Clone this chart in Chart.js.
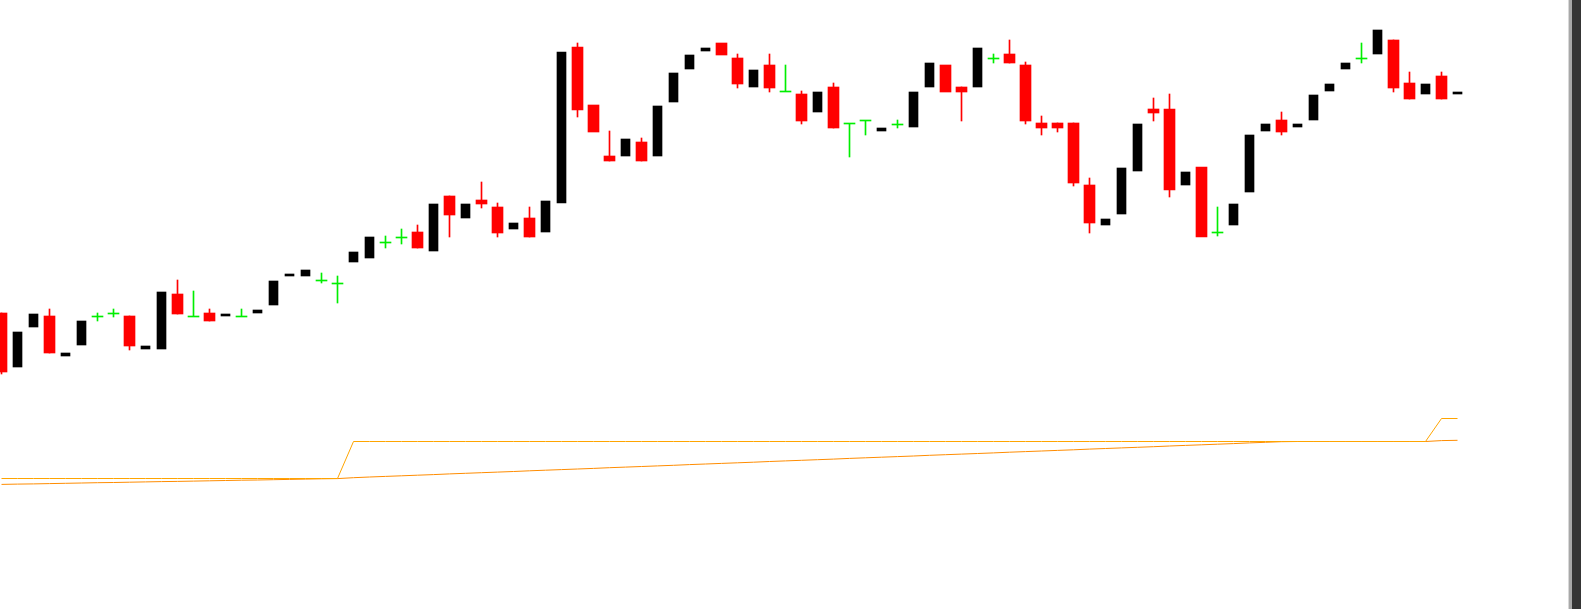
<!DOCTYPE html>
<html>
<head>
<meta charset="utf-8">
<script src="https://cdn.jsdelivr.net/npm/chart.js@4/dist/chart.umd.min.js"></script>
<style>
  html, body { margin: 0; padding: 0; background: #ffffff; overflow: hidden; }
  #wrap { position: absolute; left: 0; top: 0; width: 1568px; height: 609px; background: #ffffff; }
  #sb { position: absolute; left: 1568px; top: 0; width: 13px; height: 609px;
        background: linear-gradient(to right, #d8d8d8 0px, #d8d8d8 1px, #a8a8a8 1px, #a8a8a8 4px, #353535 4px, #353535 13px); }
</style>
</head>
<body>
<div id="wrap"><canvas id="c" width="1568" height="609"></canvas></div>
<div id="sb"></div>
<script>
// Candle OHLC values (one per bar, left to right)
const openP  = [168.7,163.3,167.3,168.4,164.4,165.5,168.35,168.65,168.4,165.1,165.1,170.6,168.35,168.7,168.4,168.35,168.7,169.5,172.4,172.4,171.95,171.65,173.8,174.2,175.75,176.25,176.8,174.9,180.4,178.2,180.0,179.3,177.1,178.2,176.8,179.7,195.3,189.5,184.4,184.4,185.8,184.4,189.8,193.1,194.9,195.7,194.2,191.3,193.5,190.85,190.6,188.8,191.3,187.65,187.95,186.9,187.55,187.3,191.3,193.5,191.3,191.3,194.15,194.6,193.5,187.7,187.7,187.7,181.5,177.5,178.6,182.9,189.1,189.1,181.5,183.3,176.75,177.5,180.8,186.9,188.0,187.3,188.0,190.9,193.1,194.15,194.6,196.0,191.7,190.6,192.4,190.6];
const highP  = [168.7,166.8,168.6,169.1,164.7,167.9,168.7,169.1,168.4,165.4,170.8,172.0,170.9,169.1,168.6,169.1,169.0,171.9,172.6,173.0,172.7,172.4,174.8,176.3,176.4,177.1,177.5,179.6,180.4,179.6,181.8,179.7,177.7,179.3,179.9,194.8,195.7,189.5,186.9,186.1,186.2,189.4,192.7,194.5,195.2,195.7,194.6,193.0,194.6,193.5,190.9,190.8,191.7,187.65,187.95,187.2,188.0,190.8,193.7,193.5,191.3,195.2,194.6,196.0,193.8,188.4,187.7,187.7,182.2,178.1,183.2,187.6,190.2,190.6,182.8,183.3,179.3,179.6,186.5,187.6,188.8,187.6,190.5,191.6,193.7,195.7,197.0,196.0,192.8,191.6,192.8,190.8];
const lowP   = [162.6,163.3,167.3,164.7,164.4,165.5,167.9,168.3,165.0,165.1,165.1,168.6,168.35,167.9,168.4,168.35,168.7,169.5,172.4,172.4,171.7,169.7,173.8,174.2,175.2,175.6,175.2,174.9,176.3,178.2,179.2,176.3,177.1,176.3,176.8,179.7,188.3,186.8,183.9,184.4,183.9,184.4,189.8,193.1,194.9,194.5,191.2,191.3,190.8,190.85,187.6,188.8,187.2,184.3,186.5,186.9,187.2,187.3,191.3,190.8,187.9,191.3,193.7,193.7,187.6,186.5,186.8,181.4,176.7,177.5,178.6,182.9,187.9,180.3,181.5,176.3,176.4,177.5,180.8,186.9,186.5,187.3,188.0,190.9,193.1,193.7,194.6,190.8,190.1,190.6,190.1,190.6];
const closeP = [162.8,166.8,168.6,164.7,164.7,167.9,168.35,168.65,165.4,165.4,170.8,168.6,168.35,167.9,168.6,168.35,169.0,171.9,172.6,173.0,171.95,171.65,174.8,176.3,175.75,176.25,175.2,179.6,178.5,179.6,179.6,176.7,177.7,176.3,179.9,194.8,189.0,186.8,183.9,186.1,183.9,189.4,192.7,194.5,195.2,194.5,191.6,193.0,191.2,190.85,187.9,190.8,187.2,187.65,187.95,187.2,187.55,190.8,193.7,190.8,190.8,195.2,194.15,193.7,187.9,187.2,187.2,181.7,177.7,178.1,183.2,187.6,188.7,181.0,182.8,176.3,176.75,179.6,186.5,187.6,186.8,187.6,190.5,191.6,193.7,194.15,197.0,191.2,190.1,191.6,190.1,190.8];

// Indicator lines (orange)
const levelLine = [152.15,152.15,152.15,152.15,152.15,152.15,152.15,152.15,152.15,152.15,152.15,152.15,152.15,152.15,152.15,152.15,152.15,152.15,152.15,152.15,152.15,152.15,155.85,155.85,155.85,155.85,155.85,155.85,155.85,155.85,155.85,155.85,155.85,155.85,155.85,155.85,155.85,155.85,155.85,155.85,155.85,155.85,155.85,155.85,155.85,155.85,155.85,155.85,155.85,155.85,155.85,155.85,155.85,155.85,155.85,155.85,155.85,155.85,155.85,155.85,155.85,155.85,155.85,155.85,155.85,155.85,155.85,155.85,155.85,155.85,155.85,155.85,155.85,155.85,155.85,155.85,155.85,155.85,155.85,155.85,155.85,155.85,155.85,155.85,155.85,155.85,155.85,155.85,155.85,155.85,158.15,158.15];
const avgLine = [151.56,151.59,151.61,151.64,151.67,151.70,151.73,151.75,151.78,151.81,151.84,151.86,151.89,151.92,151.95,151.98,152.00,152.03,152.06,152.09,152.12,152.14,152.23,152.30,152.36,152.42,152.48,152.54,152.61,152.67,152.73,152.79,152.85,152.92,152.98,153.04,153.10,153.16,153.23,153.29,153.35,153.41,153.47,153.54,153.60,153.66,153.72,153.78,153.85,153.91,153.97,154.03,154.09,154.16,154.22,154.28,154.34,154.40,154.47,154.53,154.59,154.65,154.71,154.78,154.84,154.90,154.96,155.02,155.09,155.15,155.21,155.27,155.33,155.40,155.46,155.52,155.58,155.64,155.71,155.77,155.83,155.85,155.85,155.85,155.85,155.85,155.85,155.85,155.85,155.85,155.94,155.97];

const RED = '#ff0000', BLACK = '#000000', GREEN = '#00ee00';

const wicks = [], blackBodies = [], redBodies = [], greenBodies = [], wickColors = [];
for (let i = 0; i < openP.length; i++) {
  const o = openP[i], h = highP[i], l = lowP[i], c = closeP[i];
  if (c > o) {
    blackBodies.push({x: i, y: [o, c]});
  } else if (c < o) {
    redBodies.push({x: i, y: [c, o]});
    if (h > o || l < c) { wicks.push({x: i, y: [l, h]}); wickColors.push(RED); }
  } else {
    greenBodies.push({x: i, y: [o - 0.05, o + 0.05]});
    wicks.push({x: i, y: [l, h]}); wickColors.push(GREEN);
  }
}

new Chart(document.getElementById('c'), {
  type: 'bar',
  data: {
    datasets: [
      { type: 'line', data: levelLine.map((v, i) => ({x: i, y: v})), borderColor: '#ffa500', borderWidth: 1, pointRadius: 0, tension: 0, fill: false },
      { type: 'line', data: avgLine.map((v, i) => ({x: i, y: v})), borderColor: '#ff8c00', borderWidth: 1, pointRadius: 0, tension: 0, fill: false },
      { data: blackBodies, backgroundColor: BLACK, barThickness: 9, grouped: false, borderWidth: 0 },
      { data: redBodies, backgroundColor: RED, barThickness: 11, grouped: false, borderWidth: 0 },
      { data: greenBodies, backgroundColor: GREEN, barThickness: 11, grouped: false, borderWidth: 0 },
      { data: wicks, backgroundColor: wickColors, barThickness: 1, grouped: false, borderWidth: 0 }
    ]
  },
  options: {
    responsive: false,
    animation: false,
    devicePixelRatio: 1,
    layout: { padding: 0 },
    plugins: { legend: { display: false }, tooltip: { enabled: false } },
    scales: {
      x: { type: 'linear', display: false, offset: false, bounds: 'data', grid: { offset: false }, min: -0.09375, max: 97.90625 },
      y: { type: 'linear', display: false, min: 139.1, max: 200 }
    }
  }
});
</script>
</body>
</html>
